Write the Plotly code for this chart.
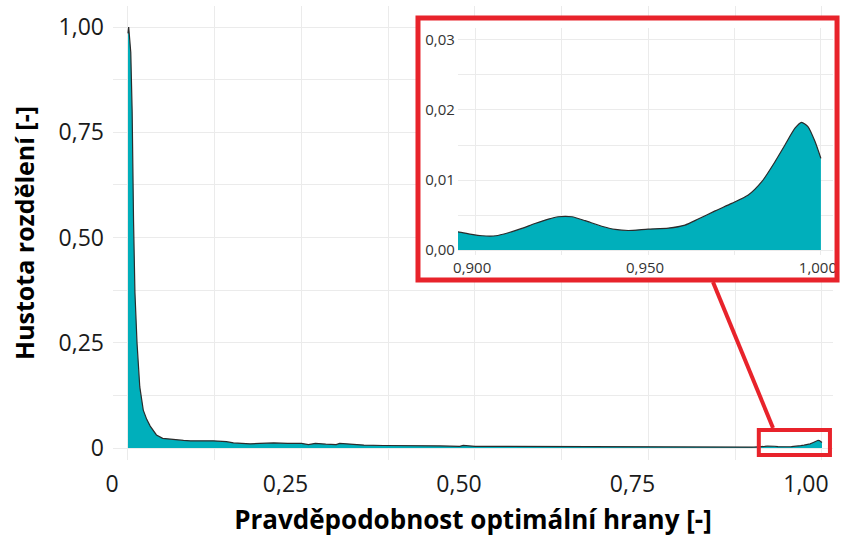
import plotly.graph_objects as go

# Density of the optimal-edge probability (main curve, sampled along x)
prob = [0.000, 0.001, 0.004, 0.006, 0.008, 0.010, 0.013, 0.017, 0.022, 0.027,
        0.032, 0.041, 0.050, 0.060, 0.070, 0.080, 0.090, 0.104, 0.114, 0.123,
        0.132, 0.142, 0.152, 0.165, 0.176, 0.190, 0.210, 0.230, 0.250, 0.260,
        0.270, 0.285, 0.300, 0.305, 0.320, 0.340, 0.368, 0.390, 0.416, 0.450,
        0.478, 0.483, 0.500, 0.530, 0.560, 0.600, 0.627, 0.640, 0.660, 0.690,
        0.720, 0.750, 0.780, 0.810, 0.840, 0.870, 0.885,
        0.895, 0.899, 0.902, 0.906, 0.9096, 0.9135, 0.9173, 0.9212, 0.924, 0.928,
        0.9318, 0.9366, 0.9405, 0.9443, 0.950, 0.9559, 0.9607, 0.9645, 0.9694,
        0.9742, 0.979, 0.9829, 0.9867, 0.9896, 0.9925, 0.9944, 0.9963, 0.9983, 1.000]
density = [0.985, 1.000, 0.940, 0.800, 0.540, 0.370, 0.250, 0.145, 0.090, 0.068,
           0.052, 0.031, 0.023, 0.021, 0.020, 0.018, 0.017, 0.016, 0.017, 0.017,
           0.016, 0.015, 0.012, 0.011, 0.010, 0.011, 0.012, 0.011, 0.011, 0.008,
           0.011, 0.009, 0.008, 0.011, 0.009, 0.007, 0.006, 0.006, 0.005, 0.005,
           0.004, 0.006, 0.004, 0.004, 0.004, 0.004, 0.003, 0.004, 0.003, 0.004,
           0.003, 0.004, 0.003, 0.004, 0.003, 0.004, 0.003,
           0.00262, 0.00224, 0.00205, 0.00205, 0.00248, 0.0031, 0.0038, 0.00443, 0.00476, 0.00476,
           0.0042, 0.0034, 0.00295, 0.0028, 0.0030, 0.00314, 0.00357, 0.00443, 0.0056,
           0.00667, 0.00786, 0.00976, 0.0126, 0.0150, 0.0174, 0.01824, 0.0176, 0.0155, 0.0131]

x_ticks = [0, 0.25, 0.5, 0.75, 1.0]
x_labels = ["0", "0,25", "0,50", "0,75", "1,00"]
y_ticks = [0, 0.25, 0.5, 0.75, 1.0]
y_labels = ["0", "0,25", "0,50", "0,75", "1,00"]

zoom_x_ticks = [0.90, 0.95, 1.00]
zoom_x_labels = ["0,900", "0,950", "1,000"]
zoom_y_ticks = [0.00, 0.01, 0.02, 0.03]
zoom_y_labels = ["0,00", "0,01", "0,02", "0,03"]

FILL = "#00AFBB"
EDGE = "#2b2b2b"
RED = "#E8232B"
GRID = "#ebebeb"
FONT = "Open Sans"

fig = go.Figure()

fig.add_trace(go.Scatter(
    x=prob, y=density, mode="lines", fill="tozeroy",
    fillcolor=FILL, line=dict(color=EDGE, width=1.2),
    xaxis="x", yaxis="y", hoverinfo="skip", showlegend=False,
))

# zoomed view of the tail near 1
fig.add_trace(go.Scatter(
    x=prob, y=density, mode="lines", fill="tozeroy",
    fillcolor=FILL, line=dict(color=EDGE, width=1.2, shape="spline", smoothing=0.6),
    xaxis="x2", yaxis="y2", hoverinfo="skip", showlegend=False,
))

fig.update_layout(
    width=844, height=541,
    margin=dict(l=113, r=11, t=6, b=81),
    paper_bgcolor="white", plot_bgcolor="white",
    font=dict(family=FONT, color="#1a1a1a"),
    xaxis=dict(
        range=[-0.0216, 1.0159], tickmode="array", tickvals=x_ticks, ticktext=x_labels,
        tickfont=dict(size=23, color="#1a1a1a"), ticks="", showline=False, zeroline=False,
        showgrid=True, gridcolor=GRID, gridwidth=1.2,
        minor=dict(tickmode="linear", tick0=0, dtick=0.125, showgrid=True, gridcolor=GRID, gridwidth=1),
        ticklabelstandoff=8, ticklabelshift=-16, ticklabeloverflow="allow", automargin=False,
        title=dict(text="Pravděpodobnost optimální hrany [-]",
                   font=dict(size=26, color="#000000", weight="bold"), standoff=12),
    ),
    yaxis=dict(
        range=[-0.0285, 1.0499], tickmode="array", tickvals=y_ticks, ticktext=y_labels,
        tickfont=dict(size=23, color="#1a1a1a"), ticks="", showline=False, zeroline=False,
        showgrid=True, gridcolor=GRID, gridwidth=1.2,
        minor=dict(tickmode="linear", tick0=0, dtick=0.125, showgrid=True, gridcolor=GRID, gridwidth=1),
        ticklabelstandoff=8, automargin=False,
        title=dict(text="Hustota rozdělení [-]",
                   font=dict(size=25, color="#000000", weight="bold"), standoff=16),
    ),
    xaxis2=dict(
        domain=[0.479, 1.0], anchor="y2", range=[0.895, 1.0035],
        tickmode="array", tickvals=zoom_x_ticks, ticktext=zoom_x_labels,
        tickfont=dict(size=15, color="#333333"), ticks="", showline=False, zeroline=False,
        showgrid=True, gridcolor=GRID,
        minor=dict(tickmode="linear", tick0=0.9, dtick=0.025, showgrid=True, gridcolor=GRID),
        ticklabelstandoff=2, ticklabelshift=-3, ticklabeloverflow="allow", automargin=False,
    ),
    yaxis2=dict(
        domain=[0.4515, 0.9515], anchor="x2", range=[-0.0007, 0.0317],
        tickmode="array", tickvals=zoom_y_ticks, ticktext=zoom_y_labels,
        tickfont=dict(size=15, color="#333333"), ticks="", showline=False, zeroline=False,
        showgrid=True, gridcolor=GRID,
        minor=dict(tickmode="linear", tick0=0, dtick=0.005, showgrid=True, gridcolor=GRID),
        ticklabelstandoff=2, automargin=False,
    ),
    shapes=[
        # white panel behind the zoomed view, covering the main grid
        dict(type="rect", xref="x", yref="y", layer="between",
             x0=0.4179, x1=1.0216, y0=0.399, y1=1.0214,
             fillcolor="white", line=dict(width=0)),
        # frame of the zoomed view
        dict(type="rect", xref="paper", yref="paper", layer="above",
             x0=0.4236, x1=1.0056, y0=0.3965, y1=0.9736,
             line=dict(color=RED, width=5)),
        # highlighted region of the main curve
        dict(type="rect", xref="x", yref="y", layer="above",
             x0=0.909, x1=1.0115, y0=-0.0166, y1=0.0428,
             line=dict(color=RED, width=4)),
        # connector between the region and its zoomed view
        dict(type="line", xref="paper", yref="paper", layer="above",
             x0=0.8333, y0=0.392, x1=0.9167, y1=0.0705,
             line=dict(color=RED, width=4)),
    ],
)

fig.write_html("out.html")
